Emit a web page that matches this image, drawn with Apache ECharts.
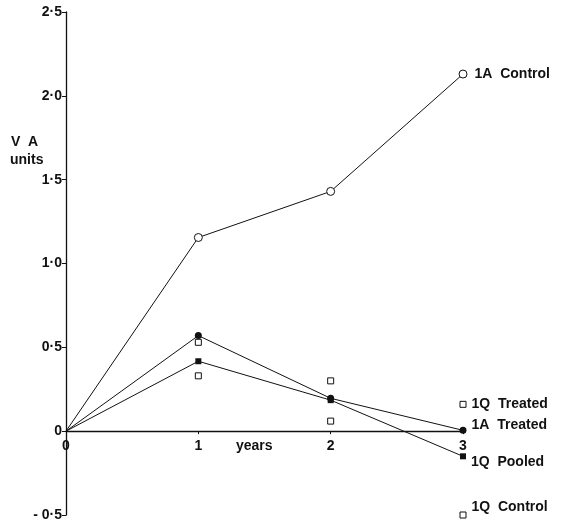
<!DOCTYPE html>
<html><head><meta charset="utf-8">
<script src="https://cdn.jsdelivr.net/npm/echarts@6/dist/echarts.min.js"></script>
<style>html,body{margin:0;padding:0;background:#fff}#c{width:561px;height:524px}</style>
</head><body><div id="c"></div>
<script>
const years = [0, 1, 2, 3];
const xTickLabels = ['0', '1', '2', '3'];
const ctrl1A = [0, 1.155, 1.43, 2.13];
const treat1A = [0, 0.57, 0.196, 0.005];
const pooled1Q = [0, 0.417, 0.185, -0.15];
const treat1Q = [null, 0.53, 0.30, 0.16];
const ctrl1Q = [null, 0.33, 0.06, -0.5];
const seriesNames = ['1A  Control', '1A  Treated', '1Q  Pooled', '1Q  Treated', '1Q  Control'];

const font = 'Liberation Sans, Arial, sans-serif';
const labelStyle = {color:'#111', fontFamily:font, fontWeight:'bold', fontSize:14};

function build(vals, name, lblOff, hideFirst) {
  return vals.map((v, i) => {
    if (v === null) return null;
    const item = {value:[years[i], v]};
    if (i === 0 && hideFirst) item.symbol = 'none';
    if (i === vals.length - 1) {
      item.label = Object.assign({show:true, position:'right', formatter:name, distance:5, offset:lblOff||[0,0]}, labelStyle);
    }
    return item;
  }).filter(d => d);
}

const chart = echarts.init(document.getElementById('c'));
chart.setOption({
  animation:false,
  grid:{left:66, right:98, top:12, bottom:9, containLabel:false, outerBoundsMode:'none'},
  xAxis:{type:'value', min:0, max:3, interval:1,
    axisLine:{onZero:true, lineStyle:{color:'#111', width:1.3}},
    axisTick:{show:true, inside:false, length:3, lineStyle:{color:'#111'}},
    splitLine:{show:false},
    axisLabel:{show:false}
  },
  yAxis:{type:'value', min:-0.5, max:2.5, interval:0.5,
    axisLine:{show:true, lineStyle:{color:'#111', width:1.3}},
    axisTick:{show:true, length:4, lineStyle:{color:'#111'}},
    splitLine:{show:false},
    axisLabel:{color:'#111', fontFamily:font, fontWeight:'bold', fontSize:14, margin:4,
      formatter: v => v === 0 ? '0' : (v < 0 ? '- ' : '') + Math.abs(v).toFixed(1).replace('.', '·')}
  },
  graphic:[
    {type:'text', left:236, top:439, style:{text:'years', fill:'#111', font:'bold 14px Liberation Sans, Arial, sans-serif'}},
    {type:'text', left:11, top:135, style:{text:'V  A', fill:'#111', font:'bold 14px Liberation Sans, Arial, sans-serif'}},
    {type:'text', left:10, top:153, style:{text:'units', fill:'#111', font:'bold 14px Liberation Sans, Arial, sans-serif'}}
  ],
  series:[
    {name:'xlabels', type:'scatter', symbol:'circle', symbolSize:1, silent:true, z:1, clip:false,
      itemStyle:{color:'rgba(0,0,0,0)', opacity:1},
      data:years.map((x, i) => ({value:[x, 0], label:Object.assign({show:true, position:'bottom', distance:7, formatter:xTickLabels[i]}, labelStyle)}))},
    {name:seriesNames[0], type:'line', data:build(ctrl1A, seriesNames[0], [2,0], true), symbol:'circle', symbolSize:8,
      itemStyle:{color:'#fff', borderColor:'#111', borderWidth:1}, lineStyle:{color:'#111', width:1}},
    {name:seriesNames[1], type:'line', data:build(treat1A, seriesNames[1], [0,-5], true), symbol:'circle', symbolSize:7,
      itemStyle:{color:'#111'}, lineStyle:{color:'#111', width:1}},
    {name:seriesNames[2], type:'line', data:build(pooled1Q, seriesNames[2], [0,6], true), symbol:'rect', symbolSize:6,
      itemStyle:{color:'#111'}, lineStyle:{color:'#111', width:1}},
    {name:seriesNames[3], type:'scatter', data:build(treat1Q, seriesNames[3], [0,0]), symbol:'rect', symbolSize:6, clip:false,
      itemStyle:{color:'#fff', borderColor:'#111', borderWidth:1, opacity:1}},
    {name:seriesNames[4], type:'scatter', data:build(ctrl1Q, seriesNames[4], [0,-8]), symbol:'rect', symbolSize:6, clip:false,
      itemStyle:{color:'#fff', borderColor:'#111', borderWidth:1, opacity:1}}
  ]
});
</script></body></html>
